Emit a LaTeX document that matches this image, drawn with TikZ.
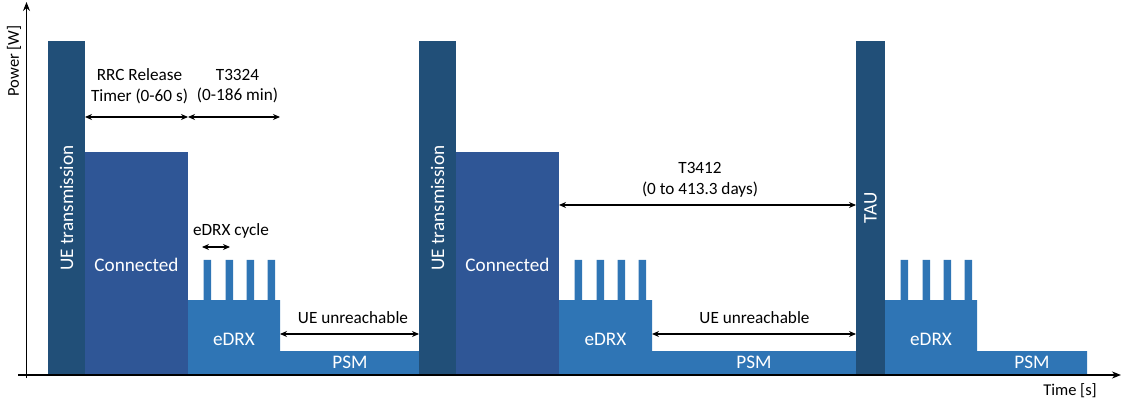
\documentclass[tikz,border=0pt]{standalone}
\usepackage{fontspec}
\setmainfont{Carlito}
\usetikzlibrary{arrows.meta}
\definecolor{txblue}{RGB}{33,79,120}
\definecolor{conblue}{RGB}{47,86,150}
\definecolor{idleblue}{RGB}{47,117,181}

% eDRX block with four paging pulses followed by the PSM floor
% #1 = eDRX start, #2 = eDRX end, #3 = PSM end
\newcommand\idleblock[3]{%
  \fill[idleblue] (#1,375) -- (#1,300)
    -- (#1+15.5,300) -- (#1+15.5,260) -- (#1+23,260) -- (#1+23,300)
    -- (#1+37.5,300) -- (#1+37.5,260) -- (#1+45,260) -- (#1+45,300)
    -- (#1+58.5,300) -- (#1+58.5,260) -- (#1+66,260) -- (#1+66,300)
    -- (#1+79.5,300) -- (#1+79.5,260) -- (#1+87,260) -- (#1+87,300)
    -- (#2,300) -- (#2,351) -- (#3,351) -- (#3,375) -- cycle;}

\begin{document}
\begin{tikzpicture}[x=1pt,y=-1pt,
  dim/.style={{Stealth[length=7pt,width=6pt]}-{Stealth[length=7pt,width=6pt]}, line width=1.1pt},
  lbl/.style={font=\fontsize{17.2}{20.5}\selectfont, align=center, inner sep=0pt},
  inlbl/.style={font=\fontsize{19.2}{22}\selectfont, text=white, inner sep=0pt},
  axislbl/.style={font=\fontsize{16.5}{20}\selectfont, inner sep=0pt},
  axisline/.style={line width=1.3pt, -{Stealth[length=9pt,width=7pt]}}]
\useasboundingbox (0,0) rectangle (1124,403);

% bars
\fill[txblue]  (48,375)  rectangle (85,41);
\fill[conblue] (85,375)  rectangle (188,152);
\idleblock{188}{280}{419}
\fill[txblue]  (419,375) rectangle (456,41);
\fill[conblue] (456,375) rectangle (559,152);
\idleblock{559}{652}{856}
\fill[txblue]  (856,375) rectangle (885,41);
\idleblock{885}{977}{1087}

% axes
\coordinate (xs) at (18,375);
\coordinate (xe) at (1121,375);
\coordinate (ys) at (26.5,378);
\coordinate (ye) at (26.5,2);
\draw[axisline] (xs) -- (xe);
\draw[axisline] (ys) -- (ye);
\node[axislbl, rotate=90] (ylab) at (14,61) {Power [W]};
\node[axislbl] (xlab) at (1070,391) {Time [s]};

% labels inside the bars
\node[inlbl, rotate=90] (ue1) at (66.5,208) {UE transmission};
\node[inlbl, rotate=90] (ue2) at (437.5,208) {UE transmission};
\node[inlbl, rotate=90] (tau) at (870.5,208) {TAU};
\node[inlbl] (con1) at (136.5,265) {Connected};
\node[inlbl] (con2) at (507.5,265) {Connected};
\node[inlbl] (edrx1) at (234,339) {eDRX};
\node[inlbl] (edrx2) at (605.5,339) {eDRX};
\node[inlbl] (edrx3) at (931,339) {eDRX};
\node[inlbl] (psm1) at (350,362) {PSM};
\node[inlbl] (psm2) at (754,362) {PSM};
\node[inlbl] (psm3) at (1032,362) {PSM};

% timer ends
\coordinate (r0) at (85,117);
\coordinate (r1) at (188,117);
\coordinate (r2) at (280,117);
\coordinate (c0) at (202,247);
\coordinate (c1) at (230,247);
\coordinate (u0) at (280,334);
\coordinate (u1) at (419,334);
\coordinate (t0) at (559,205);
\coordinate (t1) at (856,205);
\coordinate (v0) at (652,334);
\coordinate (v1) at (856,334);

\draw[dim] (r0) -- (r1);
\draw[dim] (r1) -- (r2);
\draw[dim] (c0) -- (c1);
\draw[dim] (u0) -- (u1);
\draw[dim] (t0) -- (t1);
\draw[dim] (v0) -- (v1);

% timer labels
\node[lbl] (rrc) at (139.5,86) {RRC Release\\Timer (0-60 s)};
\node[lbl] (t3324) at (237.5,86) {T3324\\(0-186 min)};
\node[lbl] (cyc) at (231,231) {eDRX cycle};
\node[lbl] (unr1) at (353,318) {UE unreachable};
\node[lbl] (t3412) at (700,180) {T3412\\(0 to 413.3 days)};
\node[lbl] (unr2) at (754.5,318) {UE unreachable};
\end{tikzpicture}
\end{document}
